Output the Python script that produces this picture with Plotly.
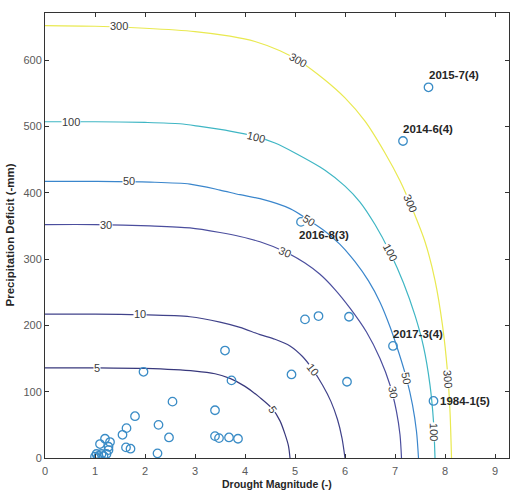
import plotly.graph_objects as go

# ---- Contour lines of joint return period ----
levels = [5, 10, 30, 50, 100, 300]
level_colors = ["#38387c", "#40428a", "#4b4e9e", "#3a86cc", "#3fb6c4", "#e9e950"]

c5_x = [0, 1, 2, 3.0, 3.4, 3.7, 4.0, 4.3, 4.55, 4.7, 4.8, 4.87, 4.9]
c5_y = [136, 136, 135, 131, 127, 120, 108, 91, 74, 56, 36, 18, 0]

c10_x = [0, 1, 1.9, 2.9, 3.5, 3.9, 4.3, 4.6, 4.9, 5.15, 5.35, 5.55, 5.72, 5.85, 5.94, 6.0]
c10_y = [217, 217, 216, 213, 205, 197, 186, 179, 169, 153, 134, 110, 85, 58, 30, 0]

c30_x = [0, 1, 2.1, 2.9, 3.5, 3.9, 4.3, 4.8, 5.2, 5.5, 5.8, 6.1, 6.43, 6.7, 6.9, 7.03, 7.1, 7.13]
c30_y = [352, 352, 350, 347, 340, 334, 326, 311, 294, 277, 254, 226, 190, 150, 110, 70, 35, 0]

c50_x = [0, 1, 2.1, 2.9, 3.5, 3.9, 4.3, 4.9, 5.27, 5.6, 5.9, 6.2, 6.47, 6.7, 6.9, 7.08, 7.23, 7.35, 7.43, 7.47]
c50_y = [417, 417, 416, 413, 404, 397, 391, 376, 359, 342, 322, 296, 267, 235, 198, 158, 120, 80, 40, 0]

c100_x = [0, 1, 2, 2.7, 3.1, 3.7, 4.2, 4.6, 5.0, 5.6, 6.0, 6.3, 6.6, 6.9, 7.17, 7.4, 7.57, 7.7, 7.77, 7.8]
c100_y = [507, 507, 506, 504, 500, 493, 485, 475, 460, 434, 410, 386, 352, 310, 264, 215, 168, 110, 55, 0]

c300_x = [0, 1.0, 2.0, 3.0, 3.7, 4.2, 4.7, 5.1, 5.6, 6.0, 6.4, 6.8, 7.1, 7.35, 7.6, 7.8, 7.95, 8.05, 8.1, 8.13]
c300_y = [652, 651, 648, 643, 636, 628, 614, 598, 570, 543, 508, 460, 418, 375, 326, 268, 200, 130, 70, 0]

contour_x = [c5_x, c10_x, c30_x, c50_x, c100_x, c300_x]
contour_y = [c5_y, c10_y, c30_y, c50_y, c100_y, c300_y]

# inline contour labels: level, x, y, angle
lab_level = [300, 300, 300, 300, 100, 100, 100, 100, 50, 50, 50, 30, 30, 30, 10, 10, 5, 5]
lab_x = [1.47, 5.06, 7.3, 8.05, 0.52, 4.22, 6.9, 7.77, 1.68, 5.27, 7.23, 1.22, 4.8, 6.97, 1.9, 5.35, 1.03, 4.55]
lab_y = [651, 600, 384, 120, 507, 484, 310, 40, 417, 359, 121, 352, 311, 100, 217, 134, 136, 74]
lab_ang = [0, 30, 66, 86, 0, 14, 62, 89, 0, 32, 80, 0, 24, 80, 0, 52, 0, 56]

# ---- Observed drought events ----
magnitude = [3.6, 3.73, 1.97, 2.55, 3.4, 1.8, 2.27, 1.63, 1.55, 2.48, 3.4, 3.48, 3.68, 3.86,
             1.62, 1.71, 2.25, 1.2, 1.1, 1.3, 1.27, 1.03, 1.13, 1.23, 1.0, 1.07, 1.27, 1.17, 1.05,
             5.2, 5.47, 6.08, 6.96, 4.93, 6.04, 7.77, 7.67, 7.16, 5.12]
deficit = [162, 117, 130, 85, 72, 63, 50, 45, 35, 31, 33, 30, 31, 29,
           16, 14, 7, 29, 21, 24, 17, 6, 6, 6, 2, 3, 12, 3, 0,
           209, 214, 213, 169, 126, 115, 86, 559, 478, 356]

event_names = ["2015-7(4)", "2014-6(4)", "2016-8(3)", "2017-3(4)", "1984-1(5)"]
event_x = [7.67, 7.16, 5.12, 6.96, 7.77]
event_y = [559, 478, 356, 169, 86]

x_ticks = [0, 1, 2, 3, 4, 5, 6, 7, 8, 9]
y_ticks = [0, 100, 200, 300, 400, 500, 600]

FONT = "Liberation Sans, Arial, sans-serif"

fig = go.Figure()
for lv, cx, cy, col in zip(levels, contour_x, contour_y, level_colors):
    fig.add_trace(go.Scatter(x=cx, y=cy, mode="lines",
                             line=dict(color=col, width=1.2, shape="spline", smoothing=0.8),
                             name=str(lv), hoverinfo="skip"))

fig.add_trace(go.Scatter(x=magnitude, y=deficit, mode="markers",
                         marker=dict(symbol="circle-open", size=8.5, color="#3a8cc6", line=dict(width=1.3)),
                         name="events"))

annotations = []
for lv, lx, ly, la in zip(lab_level, lab_x, lab_y, lab_ang):
    annotations.append(dict(x=lx, y=ly, xref="x", yref="y", text=str(lv), showarrow=False,
                            textangle=la, bgcolor="white", borderpad=0,
                            font=dict(family=FONT, size=11, color="#3a3a3a")))

# event labels: offsets (xshift, yshift, xanchor, yanchor)
ev_pos = [(-2, 4, "left", "bottom"), (-2, 4, "left", "bottom"), (-4, -5, "left", "top"),
          (-2, 4, "left", "bottom"), (4, 0, "left", "middle")]
for nm, ex, ey, (xs, ys, xa, ya) in zip(event_names, event_x, event_y, ev_pos):
    annotations.append(dict(x=ex, y=ey, xref="x", yref="y", text="<b>" + nm + "</b>", showarrow=False,
                            xanchor=xa, yanchor=ya, xshift=xs, yshift=ys,
                            font=dict(family=FONT, size=11.5, color="#262626")))

# axis titles placed as paper annotations
annotations.append(dict(x=0.5, y=0, xref="paper", yref="paper", yanchor="bottom", yshift=-34,
                        text="<b>Drought Magnitude (-)</b>", showarrow=False,
                        font=dict(family=FONT, size=10.5, color="#262626")))
annotations.append(dict(x=0, y=0.5, xref="paper", yref="paper", xanchor="center", xshift=-36,
                        textangle=-90, text="<b>Precipitation Deficit (-mm)</b>", showarrow=False,
                        font=dict(family=FONT, size=11.5, color="#262626")))

fig.update_layout(
    width=515, height=492,
    margin=dict(l=45, r=6, t=13, b=34),
    plot_bgcolor="white", paper_bgcolor="white",
    showlegend=False,
    annotations=annotations,
    font=dict(family=FONT, size=11, color="#4d4d4d"),
)

fig.update_xaxes(range=[0, 9.28], tickvals=x_ticks, ticks="inside", ticklen=4, tickcolor="#333",
                 showgrid=False, zeroline=False, showline=True, linecolor="#333", linewidth=1, mirror="ticks",
                 tickfont=dict(size=11, color="#5a5a5a"), ticklabelstandoff=3, automargin=False)
fig.update_yaxes(range=[0, 671], tickvals=y_ticks, ticks="inside", ticklen=4, tickcolor="#333",
                 showgrid=False, zeroline=False, showline=True, linecolor="#333", linewidth=1, mirror="ticks",
                 tickfont=dict(size=11, color="#5a5a5a"), automargin=False)

fig.write_html("out.html")
